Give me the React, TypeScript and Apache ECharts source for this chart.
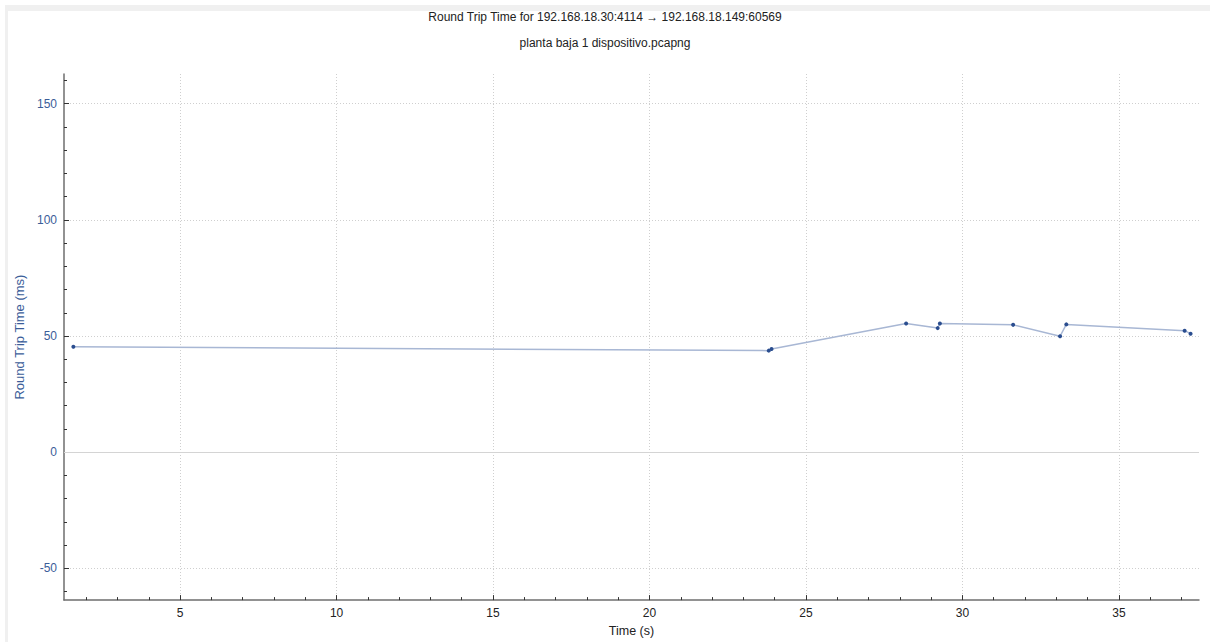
import React, { useEffect, useRef } from "react";
import * as echarts from "echarts";

const titleText = "Round Trip Time for 192.168.18.30:4114 \u2192 192.168.18.149:60569";
const subtitleText = "planta baja 1 dispositivo.pcapng";

const timeSeconds = [1.59, 23.81, 23.9, 28.2, 29.21, 29.28, 31.62, 33.12, 33.32, 37.1, 37.29];
const rttMs = [45.4, 43.7, 44.4, 55.4, 53.4, 55.4, 54.8, 49.9, 55.0, 52.3, 51.0];

const xMajorTicks = [5, 10, 15, 20, 25, 30, 35];
const xMinorTicks = [2, 3, 4, 6, 7, 8, 9, 11, 12, 13, 14, 16, 17, 18, 19, 21, 22, 23, 24, 26, 27, 28, 29, 31, 32, 33, 34, 36, 37];
const yMajorTicks = [-50, 0, 50, 100, 150];
const yMinorTicks = [-60, -40, -30, -20, -10, 10, 20, 30, 40, 60, 70, 80, 90, 110, 120, 130, 140, 160];

const X_MIN = 1.29;
const X_MAX = 37.56;
const Y_MIN = -63.7;
const Y_MAX = 162.8;

const FONT = "'Liberation Sans', Arial, sans-serif";
const BLUE = "#3b5d99";
const GRIDC = "#cfcfcf";
const AXISC = "#6e6e6e";

export default function App() {
  const ref = useRef<HTMLDivElement>(null);
  useEffect(() => {
    document.body.style.margin = "0";
    const chart = echarts.init(ref.current!, null, { renderer: "svg" });
    const data = timeSeconds.map((t, i) => [t, rttMs[i]]);
    chart.setOption({
      animation: false,
      backgroundColor: "#ffffff",
      textStyle: { fontFamily: FONT },
      graphic: [
        { type: "rect", shape: { x: 5, y: 5, width: 1205, height: 6 }, style: { fill: "#f0f0f0" } },
        { type: "rect", shape: { x: 5, y: 5, width: 3, height: 637 }, style: { fill: "#f0f0f0" } },
      ],
      title: [
        { text: titleText, left: "center", top: 6, textStyle: { fontSize: 12, fontWeight: "normal", color: "#222", fontFamily: FONT } },
        { text: subtitleText, left: "center", top: 32, textStyle: { fontSize: 12, fontWeight: "normal", color: "#222", fontFamily: FONT } },
      ],
      grid: { left: 64, right: 11, top: 74, bottom: 38, containLabel: false },
      xAxis: [
        {
          type: "value",
          min: X_MIN,
          max: X_MAX,
          splitNumber: 7,
          minInterval: 5,
          maxInterval: 5,
          name: "Time (s)",
          nameLocation: "middle",
          nameGap: 23,
          nameTextStyle: { color: "#222", fontSize: 12.5, fontFamily: FONT },
          axisLine: { show: true, onZero: false, lineStyle: { color: AXISC, width: 1.5 } },
          axisTick: { show: true, inside: true, length: 5, customValues: xMajorTicks, lineStyle: { color: "#333" } },
          axisLabel: { show: true, margin: 7, color: "#222", fontSize: 12, fontFamily: FONT, customValues: xMajorTicks },
          splitLine: { show: true, lineStyle: { color: GRIDC, type: [1, 2], width: 1 } },
        },
        {
          type: "value",
          min: X_MIN,
          max: X_MAX,
          position: "bottom",
          axisLine: { show: false, onZero: false },
          axisTick: { show: true, inside: true, length: 3, customValues: xMinorTicks, lineStyle: { color: "#333" } },
          axisLabel: { show: false },
          splitLine: { show: false },
        },
      ],
      yAxis: [
        {
          type: "value",
          min: Y_MIN,
          max: Y_MAX,
          splitNumber: 5,
          minInterval: 50,
          maxInterval: 50,
          name: "Round Trip Time (ms)",
          nameLocation: "middle",
          nameGap: 37,
          nameTextStyle: { color: BLUE, fontSize: 13, fontFamily: FONT },
          axisLine: { show: true, onZero: false, lineStyle: { color: AXISC, width: 1.5 } },
          axisTick: { show: true, inside: true, length: 5, customValues: yMajorTicks, lineStyle: { color: "#333" } },
          axisLabel: { show: true, margin: 7, color: BLUE, fontSize: 12, fontFamily: FONT, customValues: yMajorTicks },
          splitLine: { show: true, lineStyle: { color: GRIDC, type: [1, 2], width: 1 } },
        },
        {
          type: "value",
          min: Y_MIN,
          max: Y_MAX,
          position: "left",
          axisLine: { show: false, onZero: false },
          axisTick: { show: true, inside: true, length: 3, customValues: yMinorTicks, lineStyle: { color: "#333" } },
          axisLabel: { show: false },
          splitLine: { show: false },
        },
      ],
      series: [
        {
          type: "line",
          xAxisIndex: 0,
          yAxisIndex: 0,
          data,
          symbol: "circle",
          symbolSize: 4,
          showSymbol: true,
          lineStyle: { color: "#a8b7d4", width: 1.5 },
          itemStyle: { color: "#2a4d8f" },
          markLine: {
            silent: true,
            symbol: "none",
            label: { show: false },
            lineStyle: { color: "#d4d4d4", type: "solid", width: 1.2 },
            data: [{ yAxis: 0 }],
          },
        },
      ],
    });
    return () => chart.dispose();
  }, []);
  return <div ref={ref} style={{ width: 1210, height: 642 }} />;
}
